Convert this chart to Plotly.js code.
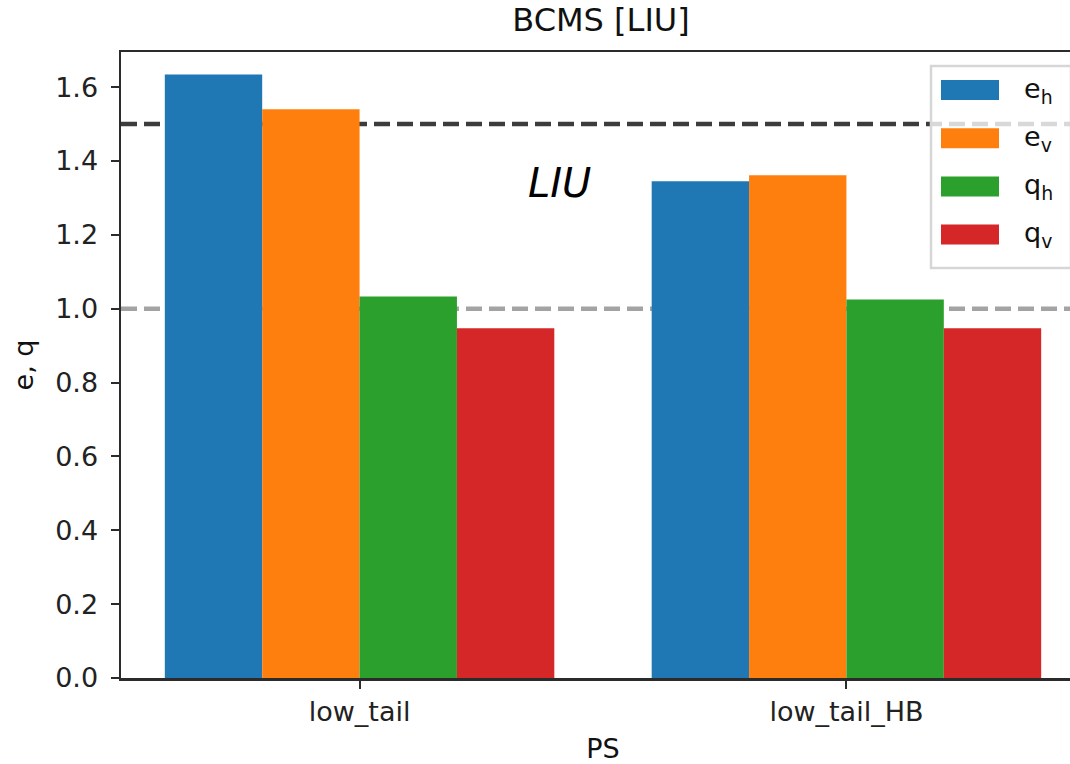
<!DOCTYPE html>
<html>
<head>
<meta charset="utf-8">
<script src="https://cdn.plot.ly/plotly-3.0.1.min.js"></script>
<style>
  html, body { margin: 0; padding: 0; overflow: hidden; background: #fff; }
  #chart { width: 1100px; height: 764px; }
</style>
</head>
<body>
<div id="chart"></div>
<script>
// Beam emittance / quality factors for the BCMS beam, LIU scenario
const categories = ['low_tail', 'low_tail_HB'];
const seriesNames = ['e<sub>h</sub>', 'e<sub>v</sub>', 'q<sub>h</sub>', 'q<sub>v</sub>'];
const seriesColors = ['#1f77b4', '#ff7f0e', '#2ca02c', '#d62728'];
const e_h = [1.634, 1.345];
const e_v = [1.540, 1.361];
const q_h = [1.033, 1.025];
const q_v = [0.947, 0.947];
const seriesValues = [e_h, e_v, q_h, q_v];
const yTicks = [0, 0.2, 0.4, 0.6, 0.8, 1.0, 1.2, 1.4, 1.6];
const yTickText = ['0.0', '0.2', '0.4', '0.6', '0.8', '1.0', '1.2', '1.4', '1.6'];
const liuLimit = 1.5;
const unityLine = 1.0;

const FONT = 'DejaVu Sans, sans-serif';
const W = 1100, H = 764;
const M = { l: 121, r: 15, t: 52, b: 86 };
const L = M.l, R = W - M.r, T = M.t, B = H - M.b;
const px = x => (x - L) / (R - L);
const py = y => (B - y) / (B - T);

const traces = seriesValues.map((vals, i) => ({
  type: 'bar',
  x: categories,
  y: vals,
  name: seriesNames[i],
  marker: { color: seriesColors[i], line: { width: 0 } },
  showlegend: false,
  hoverinfo: 'x+y+name'
}));

// horizontal reference lines
const shapes = [
  { type: 'line', layer: 'below', xref: 'paper', yref: 'y', x0: 0, x1: 1, y0: liuLimit, y1: liuLimit,
    line: { color: '#3c3c3c', width: 4.5, dash: '16px,7px' } },
  { type: 'line', layer: 'below', xref: 'paper', yref: 'y', x0: 0, x1: 1, y0: unityLine, y1: unityLine,
    line: { color: '#a3a3a3', width: 4.5, dash: '16px,7px' } }
];

// legend box with wide colour patches
const annotations = [];
shapes.push({ type: 'rect', layer: 'above', xref: 'paper', yref: 'paper',
  x0: px(931), x1: px(1071), y0: py(268), y1: py(66),
  fillcolor: 'rgba(255,255,255,0.8)', line: { color: '#d6d6d6', width: 2.5 } });
seriesNames.forEach((name, i) => {
  const top = 80 + i * 48.2;
  shapes.push({ type: 'rect', layer: 'above', xref: 'paper', yref: 'paper',
    x0: px(941), x1: px(999), y0: py(top + 20), y1: py(top),
    fillcolor: seriesColors[i], line: { width: 0 } });
  annotations.push({ xref: 'paper', yref: 'paper', x: px(1022), y: py(top + 10),
    xanchor: 'left', yanchor: 'middle', showarrow: false, text: name,
    font: { family: FONT, size: 27, color: '#111' } });
});

annotations.push({ xref: 'x', yref: 'y', x: 0.41, y: 1.34, xanchor: 'center', yanchor: 'middle',
  showarrow: false, text: '<i>LIU</i>', font: { family: FONT, size: 40, color: '#000' } });

const axisCommon = {
  showline: true, linecolor: '#2b2b2b', linewidth: 2.5, mirror: true,
  ticks: 'outside', ticklen: 8, tickwidth: 2, tickcolor: '#2b2b2b',
  showgrid: false, zeroline: false, automargin: false,
  tickfont: { family: FONT, size: 27, color: '#222' }
};

const layout = {
  width: W, height: H,
  margin: M,
  paper_bgcolor: '#fff', plot_bgcolor: '#fff',
  barmode: 'group', bargap: 0.2, bargroupgap: 0,
  title: { text: 'BCMS [LIU]', x: 601 / W, xanchor: 'center', y: 1 - 20 / H, yanchor: 'middle',
    font: { family: FONT, size: 32, color: '#111' } },
  xaxis: Object.assign({}, axisCommon, {
    type: 'category', range: [-0.49, 1.49],
    title: { text: 'PS', standoff: 15, font: { family: FONT, size: 27, color: '#111' } }
  }),
  yaxis: Object.assign({}, axisCommon, {
    range: [0, 1.695], tickvals: yTicks, ticktext: yTickText,
    ticklabelstandoff: 7,
    title: { text: 'e, q', standoff: 14, font: { family: FONT, size: 27, color: '#111' } }
  }),
  shapes: shapes,
  annotations: annotations
};

Plotly.newPlot('chart', traces, layout, { displayModeBar: false, staticPlot: true });
</script>
</body>
</html>
